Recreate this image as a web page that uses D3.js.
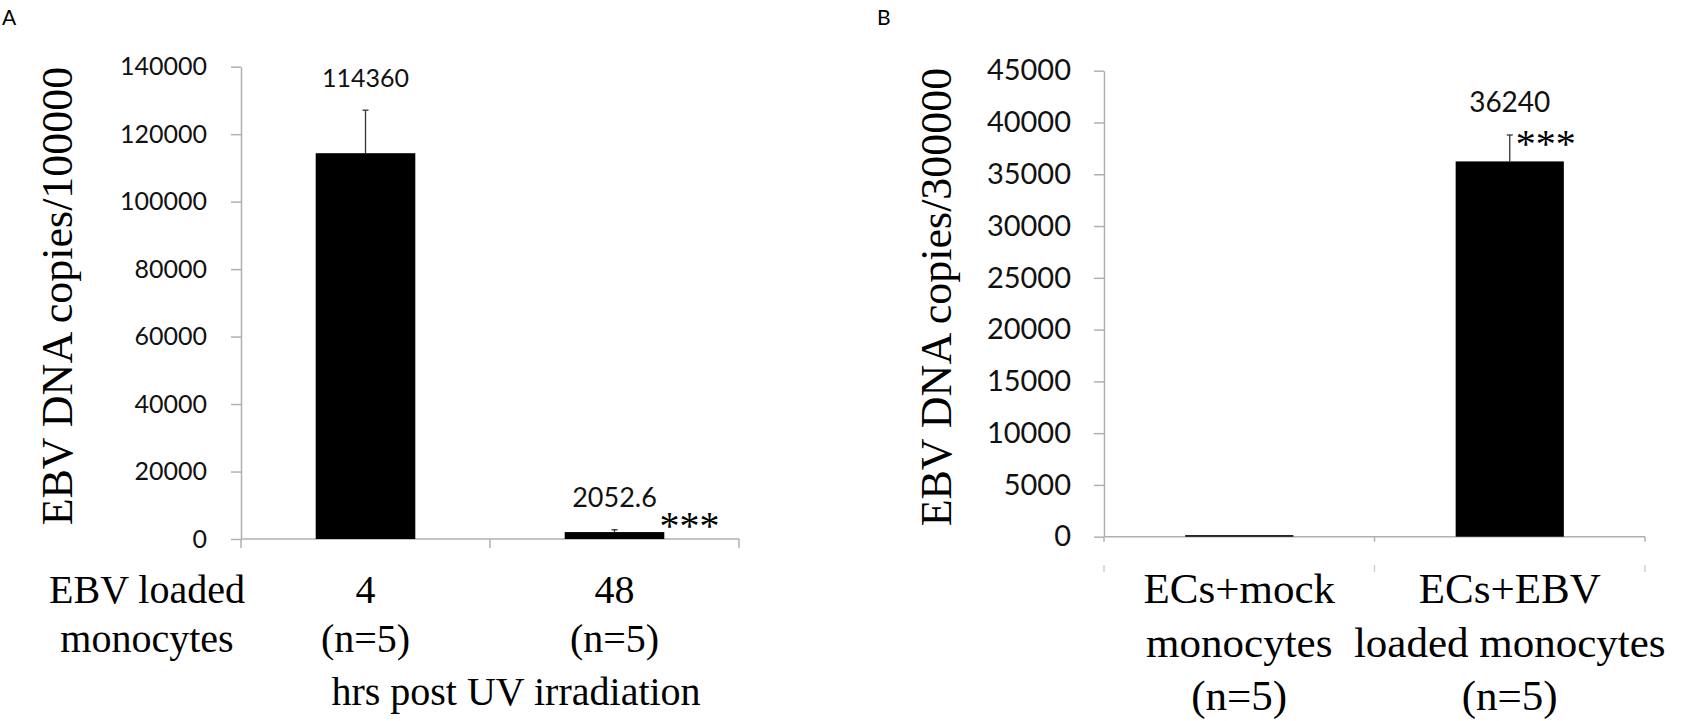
<!DOCTYPE html>
<html>
<head>
<meta charset="utf-8">
<script src="https://cdn.jsdelivr.net/npm/d3@7"></script>
<style>
  body { margin: 0; background: #fff; }
  svg { display: block; }
</style>
</head>
<body>
<svg id="chart"></svg>
<script>

// Panel A - EBV loaded monocytes, hrs post UV irradiation
var aCategories = ["4", "48"];
var aCatLines = [["4", "(n=5)"], ["48", "(n=5)"]];
var aValues = [114360, 2052.6];
var aErrors = [12750, 700];
var aLabels = ["114360", "2052.6"];
var aSig = ["", "***"];
var aTicks = [0, 20000, 40000, 60000, 80000, 100000, 120000, 140000];

// Panel B - ECs co-cultured with monocytes
var bCategories = ["mock", "EBV"];
var bCatLines = [["ECs+mock", "monocytes", "(n=5)"], ["ECs+EBV", "loaded monocytes", "(n=5)"]];
var bValues = [150, 36240];
var bErrors = [0, 2550];
var bLabels = ["", "36240"];
var bSig = ["", "***"];
var bTicks = [0, 5000, 10000, 15000, 20000, 25000, 30000, 35000, 40000, 45000];

var svgWidth = 1696;
var svgHeight = 721;
var sans = "Lato, 'Open Sans', sans-serif";
var serif = "'Liberation Serif', 'Times New Roman', serif";
var axisColor = "#b0b0b0";

var svg = d3.select("#chart")
    .attr("width", svgWidth)
    .attr("height", svgHeight);

function drawPanel(p) {
    var g = svg.append("g");

    var x = d3.scaleBand()
        .domain(p.categories)
        .range([p.left, p.right])
        .padding(0);

    var y = d3.scaleLinear()
        .domain([0, p.max])
        .range([p.bottom, p.top]);

    // y axis
    var yAxis = d3.axisLeft(y)
        .tickValues(p.ticks)
        .tickSize(10)
        .tickSizeOuter(0)
        .tickPadding(p.tickPad)
        .tickFormat(d3.format("d"));

    var ya = g.append("g")
        .attr("transform", "translate(" + p.left + ",0)")
        .call(yAxis);
    ya.select(".domain").attr("stroke", axisColor).attr("stroke-width", 1.5);
    ya.selectAll(".tick line").attr("stroke", axisColor).attr("stroke-width", 1.5);
    ya.selectAll(".tick text")
        .attr("fill", "#111")
        .style("font-family", sans)
        .style("font-size", p.tickFont + "px");

    // category axis
    g.append("line")
        .attr("x1", p.left).attr("x2", p.right)
        .attr("y1", y(0)).attr("y2", y(0))
        .attr("stroke", axisColor).attr("stroke-width", 1.5);

    var bounds = p.categories.map(function(c) { return x(c); });
    bounds.push(p.right);
    g.selectAll(".ctick")
        .data(bounds)
        .enter()
        .append("line")
        .attr("x1", function(d) { return d; })
        .attr("x2", function(d) { return d; })
        .attr("y1", y(0))
        .attr("y2", y(0) + p.catTick)
        .attr("stroke", axisColor).attr("stroke-width", 1.5);

    if (p.sepY) {
        g.selectAll(".sep")
            .data(bounds)
            .enter()
            .append("line")
            .attr("x1", function(d) { return d; })
            .attr("x2", function(d) { return d; })
            .attr("y1", p.sepY)
            .attr("y2", p.sepY + 7)
            .attr("stroke", "#d0d0d0").attr("stroke-width", 1.5);
    }

    var bw = x.bandwidth() * 0.4;
    var cx = function(i) { return x(p.categories[i]) + x.bandwidth() / 2; };

    // bars
    g.selectAll(".bar")
        .data(p.values)
        .enter()
        .append("rect")
        .attr("x", function(d, i) { return cx(i) - bw / 2; })
        .attr("y", function(d) { return y(d); })
        .attr("width", bw)
        .attr("height", function(d) { return y(0) - y(d); })
        .attr("fill", "#000");

    // error bars (upper only)
    p.values.forEach(function(v, i) {
        if (!p.errors[i]) return;
        var top = y(v + p.errors[i]);
        g.append("line")
            .attr("x1", cx(i)).attr("x2", cx(i))
            .attr("y1", y(v)).attr("y2", top)
            .attr("stroke", "#333").attr("stroke-width", 1.3);
        g.append("line")
            .attr("x1", cx(i) - 3).attr("x2", cx(i) + 3)
            .attr("y1", top).attr("y2", top)
            .attr("stroke", "#333").attr("stroke-width", 1.3);
    });

    // value labels
    g.selectAll(".vlabel")
        .data(p.labels)
        .enter()
        .append("text")
        .attr("x", function(d, i) { return cx(i); })
        .attr("y", function(d, i) { return y(p.values[i] + p.errors[i]) - 23; })
        .attr("text-anchor", "middle")
        .style("font-family", sans)
        .style("font-size", function(d, i) { return p.labelFont[i] + "px"; })
        .attr("fill", "#111")
        .text(function(d) { return d; });

    // significance stars
    g.selectAll(".sig")
        .data(p.sig)
        .enter()
        .append("text")
        .attr("x", function(d, i) { return cx(i) + p.sigDx; })
        .attr("y", function(d, i) { return y(p.values[i]) + p.sigDy; })
        .style("font-family", serif)
        .style("font-size", "40px")
        .text(function(d) { return d; });

    // category labels
    p.catLines.forEach(function(lines, i) {
        var t = g.append("text")
            .attr("text-anchor", "middle")
            .style("font-family", serif)
            .style("font-size", p.catFont + "px");
        lines.forEach(function(s, j) {
            t.append("tspan")
                .attr("x", cx(i))
                .attr("y", p.catY + j * p.catStep)
                .text(s);
        });
    });

    // y title
    g.append("text")
        .attr("transform", "translate(" + p.titleX + "," + p.titleY + ") rotate(-90)")
        .attr("text-anchor", "middle")
        .style("font-family", serif)
        .style("font-size", "44px")
        .text(p.title);

    // panel letter
    g.append("text")
        .attr("x", p.letterX).attr("y", 25)
        .style("font-family", sans)
        .style("font-size", "21px")
        .text(p.letter);

    return g;
}

var gA = drawPanel({
    categories: aCategories, catLines: aCatLines, values: aValues, errors: aErrors,
    labels: aLabels, sig: aSig, ticks: aTicks, max: 140000,
    left: 241, right: 739, top: 66.7, bottom: 539,
    tickPad: 24, tickFont: 25, labelFont: [25, 27], catTick: 9,
    sigDx: 45, sigDy: 7,
    catFont: 40, catY: 603, catStep: 49,
    title: "EBV DNA copies/100000", titleX: 72, titleY: 296,
    letter: "A", letterX: 2
});

// row labels for panel A
var rowA = gA.append("text")
    .attr("text-anchor", "middle")
    .style("font-family", serif)
    .style("font-size", "40px");
rowA.append("tspan").attr("x", 147).attr("y", 603).text("EBV loaded");
rowA.append("tspan").attr("x", 147).attr("y", 652).text("monocytes");

gA.append("text")
    .attr("x", 516).attr("y", 705)
    .attr("text-anchor", "middle")
    .style("font-family", serif)
    .style("font-size", "40px")
    .text("hrs post UV irradiation");

drawPanel({
    categories: bCategories, catLines: bCatLines, values: bValues, errors: bErrors,
    labels: bLabels, sig: bSig, ticks: bTicks, max: 45000,
    left: 1104, right: 1645, top: 70.7, bottom: 536.7,
    tickPad: 23, tickFont: 29, labelFont: [28, 28], catTick: 5, sepY: 565,
    sigDx: 6, sigDy: -4,
    catFont: 43, catY: 603, catStep: 53.5,
    title: "EBV DNA copies/300000", titleX: 951, titleY: 297,
    letter: "B", letterX: 877
});

</script>
</body>
</html>
